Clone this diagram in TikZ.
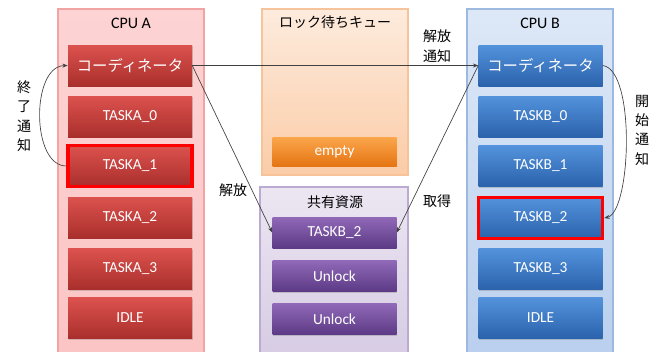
\documentclass[tikz,border=0pt]{standalone}
\usepackage{fontspec}
\setmainfont{Carlito}
\newfontfamily\jp{Noto Sans CJK JP}
\usetikzlibrary{arrows.meta,shadows}
\definecolor{panAt}{HTML}{FDD3D3}\definecolor{panAb}{HTML}{FCC4C4}\definecolor{panAd}{HTML}{F2A3A3}
\definecolor{panBt}{HTML}{DDE8F7}\definecolor{panBb}{HTML}{B9CFEE}\definecolor{panBd}{HTML}{9DB9E0}
\definecolor{panLt}{HTML}{FDEBDD}\definecolor{panLb}{HTML}{FBCCA7}\definecolor{panLd}{HTML}{F7C39A}
\definecolor{panSt}{HTML}{ECE6F2}\definecolor{panSb}{HTML}{D6CBE3}\definecolor{panSd}{HTML}{BBAAD2}
\definecolor{redT}{HTML}{DC524E}\definecolor{redB}{HTML}{A92F2C}
\definecolor{bluT}{HTML}{5393DC}\definecolor{bluB}{HTML}{2B62AC}
\definecolor{purT}{HTML}{9069B8}\definecolor{purB}{HTML}{5C3A85}
\definecolor{oraT}{HTML}{FBA64C}\definecolor{oraB}{HTML}{E57513}
\begin{document}
\begin{tikzpicture}[x=0.75pt,y=-0.75pt,
  boxbase/.style={minimum width=93pt,minimum height=30.75pt,inner sep=0pt,text=white,font=\fontsize{11.5}{13}\selectfont,
    drop shadow={shadow xshift=0.6pt,shadow yshift=-0.9pt,opacity=0.35}},
  redbox/.style={boxbase,top color=redT,bottom color=redB},
  blubox/.style={boxbase,top color=bluT,bottom color=bluB},
  purbox/.style={boxbase,top color=purT,bottom color=purB,minimum height=23.25pt},
  orabox/.style={boxbase,top color=oraT,bottom color=oraB,minimum height=21.75pt},
  hilite/.style={draw=red,line width=2.6pt},
  head/.style={font=\fontsize{12}{14}\selectfont,inner sep=0pt},
  jphead/.style={font=\jp\fontsize{10.5}{12}\selectfont,inner sep=0pt},
  jplab/.style={font=\jp\fontsize{10.5}{14.5}\selectfont,inner sep=0pt,align=center},
  conn/.style={draw=black!75,line width=0.5pt,-{Stealth[length=4pt,width=3pt]}}]
\useasboundingbox (0,0) rectangle (661,351);
\clip (0,0) rectangle (661,351);
% panels
\path[draw=panAd,top color=panAt,bottom color=panAb,line width=0.8pt] (58,9) rectangle (204,362);
\path[draw=panLd,top color=panLt,bottom color=panLb,line width=0.8pt] (262,9) rectangle (408,175);
\path[draw=panSd,top color=panSt,bottom color=panSb,line width=0.8pt] (260,187) rectangle (408,362);
\path[draw=panBd,top color=panBt,bottom color=panBb,line width=0.8pt] (467,9) rectangle (613,362);
% headings
\node[head] (hA) at (131,23) {CPU A};
\node[head] (hB) at (540,23) {CPU B};
\node[jphead] (hL) at (335,22) {ロック待ちキュー};
\node[jphead] (hS) at (335,202) {共有資源};
% CPU A
\node[redbox] (ca) at (130,65.5) {\jp コーディネータ};
\node[redbox] (a0) at (130,116.5) {TASKA\_0};
\node[redbox,hilite] (a1) at (130,166) {TASKA\_1};
\node[redbox] (a2) at (130,217.5) {TASKA\_2};
\node[redbox] (a3) at (130,269) {TASKA\_3};
\node[redbox] (ai) at (130,318) {IDLE};
% CPU B
\node[blubox] (cb) at (540.5,65.5) {\jp コーディネータ};
\node[blubox] (b0) at (540.5,116.5) {TASKB\_0};
\node[blubox] (b1) at (540.5,166) {TASKB\_1};
\node[blubox,hilite] (b2) at (540.5,218) {TASKB\_2};
\node[blubox] (b3) at (540.5,269) {TASKB\_3};
\node[blubox] (bi) at (540.5,318) {IDLE};
% lock queue
\node[orabox] (em) at (334.5,151.5) {empty};
% shared resource
\node[purbox] (p0) at (334.5,232.5) {TASKB\_2};
\node[purbox] (p1) at (334.5,276) {Unlock};
\node[purbox] (p2) at (334.5,319) {Unlock};
% connectors
\draw[conn] (ca.east) -- (cb.west);
\draw[conn] (ca.east) -- (p0.west);
\draw[conn] (cb.west) -- (p0.east);
\draw[conn] (a1.west) .. controls (31,166) and (31,66) .. (ca.west);
\draw[conn] (cb.east) .. controls (636,70) and (631,212) .. (b2.east);
% labels
\node[jplab] (lEnd) at (24,116) {終\\了\\通\\知};
\node[jplab] (lRel) at (437,46) {解放\\通知};
\node[jplab] (lSt) at (642,130) {開\\始\\通\\知};
\node[jplab] (lFree) at (233,190) {解放};
\node[jplab] (lGet) at (437,201) {取得};
\end{tikzpicture}
\end{document}
